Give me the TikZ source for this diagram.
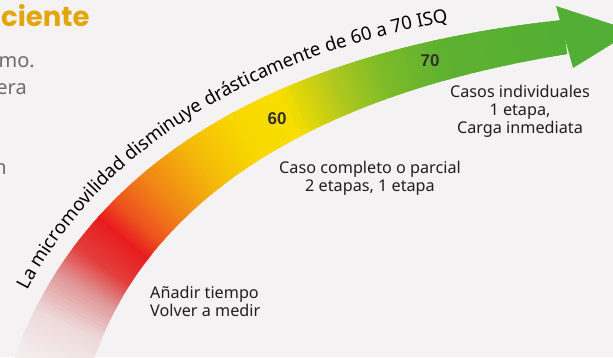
\documentclass[tikz,border=0pt]{standalone}
\usepackage{fontspec}
\setmainfont{Noto Sans}
\newfontfamily\titlefont{Poppins}
\newfontfamily\numfont{Liberation Sans}
\usetikzlibrary{decorations.text}
\definecolor{bg}{RGB}{245,242,243}
\definecolor{gold}{RGB}{226,166,10}
\definecolor{graytxt}{RGB}{110,106,110}
\definecolor{numtxt}{RGB}{50,48,40}
\definecolor{c0}{RGB}{244,239,240}
\definecolor{c1}{RGB}{239,218,219}
\definecolor{c2}{RGB}{224,148,150}
\definecolor{c3}{RGB}{226,62,60}
\definecolor{c4}{RGB}{232,28,30}
\definecolor{c5}{RGB}{237,85,30}
\definecolor{c6}{RGB}{241,135,22}
\definecolor{c7}{RGB}{244,185,10}
\definecolor{c8}{RGB}{247,215,0}
\definecolor{c9}{RGB}{247,222,0}
\definecolor{c10}{RGB}{178,200,30}
\definecolor{c11}{RGB}{125,188,40}
\definecolor{c12}{RGB}{95,178,48}
\definecolor{c13}{RGB}{82,174,52}
\newcommand\bandpart[5]{%
\foreach \i in {0,...,#5}{%
 \pgfmathsetmacro\ta{#1+(#2-#1)*\i/#5}%
 \pgfmathsetmacro\tb{min(1,\ta+(#2-#1)*1.8/#5)}%
 \pgfmathtruncatemacro\pc{100*\i/#5}%
 \pgfmathsetmacro\xa{(1-\ta)^3*50+3*(1-\ta)^2*\ta*110+3*(1-\ta)*\ta^2*300+\ta^3*565}%
 \pgfmathsetmacro\ya{(1-\ta)^3*372+3*(1-\ta)^2*\ta*180+3*(1-\ta)*\ta^2*72+\ta^3*37}%
 \pgfmathsetmacro\xb{(1-\tb)^3*50+3*(1-\tb)^2*\tb*110+3*(1-\tb)*\tb^2*300+\tb^3*565}%
 \pgfmathsetmacro\yb{(1-\tb)^3*372+3*(1-\tb)^2*\tb*180+3*(1-\tb)*\tb^2*72+\tb^3*37}%
 \pgfmathsetmacro\w{76-42*\ta}%
 \draw[line width=\w pt, #4!\pc!#3] (\xa,\ya) -- (\xb,\yb);
}}
\begin{document}
\begin{tikzpicture}[x=1pt,y=-1pt,
  lbl/.style={inner sep=0pt, text=black!88, font=\fontsize{16.2}{17.8}\selectfont},
  num/.style={inner sep=0pt, text=numtxt, font=\fontsize{17}{17}\numfont\bfseries},
  side/.style={inner sep=0pt, text=graytxt, font=\fontsize{20}{24}\selectfont, anchor=base east}]
\useasboundingbox (0,0) rectangle (613,357);
\clip (0,0) rectangle (613,357);
\fill[bg] (0,0) rectangle (613,357);
% left cropped text
\node[inner sep=0pt, text=gold, font=\fontsize{27.5}{30}\titlefont\bfseries, anchor=base west] (title) at (1,26) {ciente};
\node[side] (s1) at (35,67) {mo.};
\node[side] (s2) at (27,94) {era};
\node[side] (s3) at (7,174) {n};
% band
\bandpart{0}{0.08}{c0}{c1}{10}
\bandpart{0.08}{0.15}{c1}{c2}{10}
\bandpart{0.15}{0.20}{c2}{c3}{10}
\bandpart{0.20}{0.26}{c3}{c4}{10}
\bandpart{0.26}{0.30}{c4}{c5}{8}
\bandpart{0.30}{0.36}{c5}{c6}{10}
\bandpart{0.36}{0.44}{c6}{c7}{12}
\bandpart{0.44}{0.52}{c7}{c8}{12}
\bandpart{0.52}{0.60}{c8}{c9}{12}
\bandpart{0.60}{0.68}{c9}{c10}{12}
\bandpart{0.68}{0.75}{c10}{c11}{12}
\bandpart{0.75}{0.83}{c11}{c12}{12}
\bandpart{0.83}{1.0}{c12}{c13}{20}
% arrow head
\coordinate (hA) at (556,6);
\coordinate (hT) at (633,31);
\coordinate (hB) at (573,68);
\fill[c13] (hA) -- (hT) -- (hB) -- cycle;
% curved text
\path[decorate, decoration={text along path, text align={left indent=72pt},
  text={|\fontsize{18.6}{18.6}\selectfont|La micromovilidad disminuye drásticamente de 60 a 70 ISQ}}]
  (0,357) .. controls (67,147) and (284,26) .. (561,8);
% numbers
\node[num] (n60) at (277,119) {60};
\node[num] (n70) at (430,61) {70};
% labels
\node[lbl, align=center, anchor=north] (casos) at (520,85) {Casos individuales\\1 etapa,\\Carga inmediata};
\node[lbl, align=center, anchor=north] (completo) at (370,161) {Caso completo o parcial\\2 etapas, 1 etapa};
\node[lbl, align=left, anchor=north west] (anadir) at (150,286) {Añadir tiempo\\Volver a medir};
\end{tikzpicture}
\end{document}
